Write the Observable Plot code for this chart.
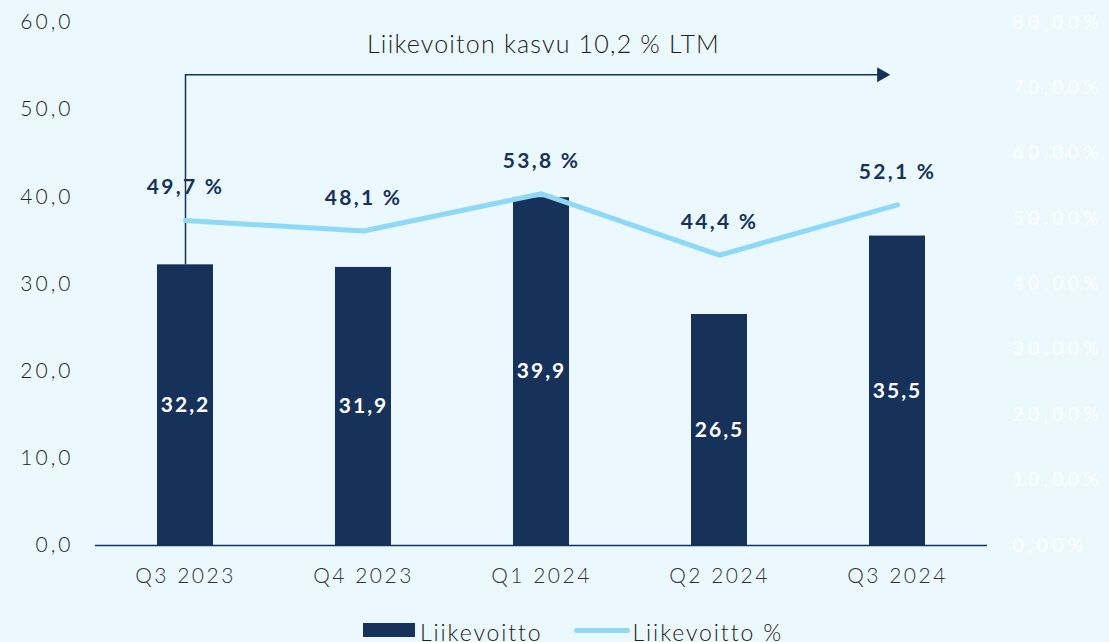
<!DOCTYPE html>
<html>
<head>
<meta charset="utf-8">
<script src="https://cdn.jsdelivr.net/npm/d3@7"></script>
<script src="https://cdn.jsdelivr.net/npm/@observablehq/plot@0.6"></script>
<style>
  html, body { margin: 0; padding: 0; background: #ebf8fd; }
  #chart { width: 1109px; height: 642px; overflow: hidden; font-family: Lato, "Open Sans", sans-serif; }
  .legend { display: flex; justify-content: flex-start; align-items: center; height: 36px; padding-left: 363px; font-size: 23px; font-weight: 300; color: #222; letter-spacing: 1.9px; }
  .legend .item { display: flex; align-items: center; }
  .legend span { position: relative; top: 2px; }
  .legend .sw-bar { width: 52px; height: 14px; background: #17325a; margin-right: 5px; }
  .legend .sw-line { width: 56px; height: 5px; border-radius: 3px; background: #8ed8f8; margin-right: 3px; }
  .legend .gap { width: 31px; }
  g[aria-label="y-axis tick label"][text-anchor="end"] text { letter-spacing: 3px; }
  g[aria-label="y-axis tick label"][text-anchor="start"] text { letter-spacing: 4.5px; }
  g[aria-label="x-axis tick label"] text { letter-spacing: 2.5px; }
  .ls-bar { letter-spacing: 2px; }
  .ls-pct { letter-spacing: 2.3px; }
  .ls-annot { letter-spacing: 1.2px; }
</style>
</head>
<body>
<div id="chart"></div>
<script>
const categories = ["Q3 2023", "Q4 2023", "Q1 2024", "Q2 2024", "Q3 2024"];
const operatingProfit = [32.2, 31.9, 39.9, 26.5, 35.5];
const operatingMarginPct = [49.7, 48.1, 53.8, 44.4, 52.1];
const leftTicks = [0, 10, 20, 30, 40, 50, 60];
const rightTicks = [0, 10, 20, 30, 40, 50, 60, 70, 80];
const seriesNames = ["Liikevoitto", "Liikevoitto %"];
const annotationText = "Liikevoiton kasvu 10,2 % LTM";
const annotationLevel = 54;   // left-axis units
const annotationTextLevel = 57.4;

const leftMax = 60, rightMax = 80;
const toLeft = p => p * leftMax / rightMax;
const fmt1 = v => v.toFixed(1).replace(".", ",");

const table = categories.map((q, i) => ({ q, op: operatingProfit[i], pct: operatingMarginPct[i] }));

const navy = "#17325a";
const light = "#8ed8f8";

const annotMark = Plot.text([{ q: categories[2], t: annotationText }], { x: "q", y: () => annotationTextLevel, text: "t",
  fontSize: 25, fontWeight: 300, fill: "#222", dx: 2 });
const barValMark = Plot.text(table, { x: "q", y: d => d.op / 2, text: d => fmt1(d.op), fill: "white", fontSize: 21, fontWeight: 700 });
const pctValMark = Plot.text(table, { x: "q", y: d => toLeft(d.pct), dy: -33, text: d => fmt1(d.pct) + " %", fill: navy, fontSize: 21, fontWeight: 700 });

const plot = Plot.plot({
  width: 1109,
  height: 612,
  marginLeft: 95,
  marginRight: 122,
  marginTop: 22,
  marginBottom: 67,
  style: { background: "transparent", fontFamily: "Lato, 'Open Sans', sans-serif", fontSize: "21px", color: "#222" },
  x: { type: "band", domain: categories, paddingInner: 0.686, paddingOuter: 0.343 },
  y: { domain: [0, leftMax] },
  marks: [
    Plot.axisY(leftTicks, { anchor: "left", label: null, tickSize: 0, tickPadding: 22, tickFormat: fmt1, fill: "#222", fontWeight: 300 }),
    Plot.axisY(rightTicks.map(toLeft), { anchor: "right", label: null, tickSize: 0, tickPadding: 25, fontSize: 19,
      tickFormat: d => (d * rightMax / leftMax).toFixed(2).replace(".", ",") + "%", fill: "#ffffff" }),
    Plot.axisX({ label: null, tickSize: 0, tickPadding: 23, fill: "#333", fontWeight: 300 }),
    Plot.barY(table, { x: "q", y: "op", fill: navy }),
    Plot.ruleY([0], { stroke: navy, strokeWidth: 1.5 }),
    Plot.ruleX([categories[0]], { y1: operatingProfit[0], y2: annotationLevel, stroke: navy, strokeWidth: 1.5 }),
    Plot.arrow([0], { x1: () => categories[0], x2: () => categories[categories.length - 1],
      y1: () => annotationLevel, y2: () => annotationLevel, stroke: navy, strokeWidth: 1.5, headLength: 0, insetEnd: 16 }),
    Plot.dot([0], { x: () => categories[categories.length - 1], y: () => annotationLevel, symbol: "triangle",
      r: 5.6, rotate: 90, fill: navy, stroke: "none", dx: -16 }),
    annotMark,
    Plot.line(table, { x: "q", y: d => toLeft(d.pct), stroke: light, strokeWidth: 5, strokeLinejoin: "round" }),
    barValMark,
    pctValMark
  ]
});

// apply letter-spacing to the text-mark groups (in mark order: annotation, bar values, pct values)
const textGroups = plot.querySelectorAll('g[aria-label="text"]');
const lsClasses = ["ls-annot", "ls-bar", "ls-pct"];
textGroups.forEach((g, i) => { if (lsClasses[i]) g.querySelectorAll("text").forEach(t => t.classList.add(lsClasses[i])); });

const chart = document.getElementById("chart");
chart.appendChild(plot);

const legend = document.createElement("div");
legend.className = "legend";
legend.innerHTML = `
  <div class="item"><div class="sw-bar"></div><span>${seriesNames[0]}</span></div>
  <div class="gap"></div>
  <div class="item"><div class="sw-line"></div><span>${seriesNames[1]}</span></div>`;
chart.appendChild(legend);
</script>
</body>
</html>
